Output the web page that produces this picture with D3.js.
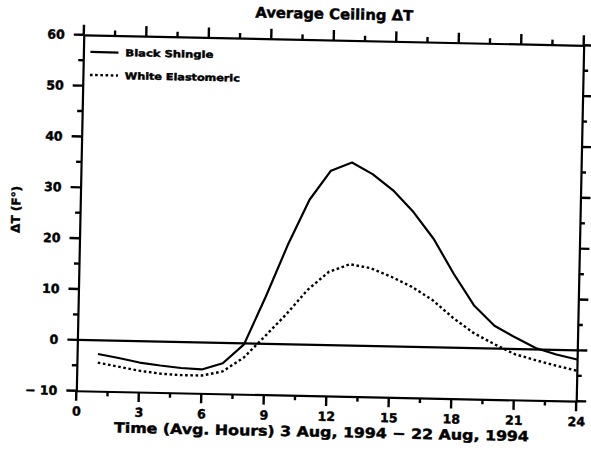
<!DOCTYPE html>
<html><head><meta charset="utf-8">
<script src="https://cdn.jsdelivr.net/npm/d3@7"></script>
<style>
html,body{margin:0;padding:0;background:#fff;}
svg{display:block;background:#fff;}
text{font-family:"DejaVu Sans",sans-serif;font-weight:bold;fill:#000;stroke:#000;stroke-width:0.45px;}
</style></head><body>
<svg id="c" width="591" height="451"></svg>
<script>
// ---- data ----
const hours = [1,2,3,4,5,6,7,8,9,10,11,12,13,14,15,16,17,18,19,20,21,22,23,24];
const blackShingle = [-2.7,-3.4,-4.2,-4.7,-5.1,-5.3,-4.0,-0.2,9.3,19.5,28.5,34.3,36.0,33.8,30.7,26.5,21.3,14.5,8.4,4.5,2.3,0.3,-0.9,-1.8];
const whiteElastomeric = [-4.4,-5.1,-5.8,-6.3,-6.5,-6.5,-5.6,-2.8,1.5,5.9,10.8,14.4,16.0,15.3,13.7,11.8,9.3,5.9,3.0,0.9,-1.0,-2.1,-3.1,-4.0];
const seriesNames = ["Black Shingle","White Elastomeric"];
const xMajorTicks = [0,3,6,9,12,15,18,21,24];
const xMinorTicks = [1.5,4.5,7.5,10.5,13.5,16.5,19.5,22.5];
const yMajorTicks = [-10,0,10,20,30,40,50,60];
const yMinorTicks = [-5,5,15,25,35,45,55];
const chartTitle = "Average Ceiling ΔT";
const xTitle = "Time (Avg. Hours) 3 Aug, 1994 \u2212 22 Aug, 1994";
const yTitle = "ΔT (F°)";

// ---- layout ----
const L=80, R=580, T=40, B=396;
const svg = d3.select("#c");
const g = svg.append("g").attr("transform","rotate(1.2,330,218)");
const x = d3.scaleLinear().domain([0,24]).range([L,R]);
const y = d3.scaleLinear().domain([-10,60]).range([B,T]);
const fmt = d => d<0 ? "\u2212 "+Math.abs(d) : String(d);

function styleAxis(sel, fs){
  sel.select(".domain").attr("stroke","#000").attr("stroke-width",2.2);
  sel.selectAll(".tick text").attr("font-size",fs).attr("font-family","DejaVu Sans").attr("font-weight","bold").attr("fill","#000");
}
// axes (frame + labels)
styleAxis(g.append("g").attr("transform",`translate(0,${B})`)
  .call(d3.axisBottom(x).tickValues(xMajorTicks).tickSize(0).tickPadding(16).tickFormat(fmt)),12.5);
styleAxis(g.append("g").attr("transform",`translate(0,${T})`)
  .call(d3.axisTop(x).tickValues(xMajorTicks).tickSize(0).tickFormat("")),12);
styleAxis(g.append("g").attr("transform",`translate(${L},0)`)
  .call(d3.axisLeft(y).tickValues(yMajorTicks).tickSize(0).tickPadding(19).tickFormat(fmt)),12.5);
styleAxis(g.append("g").attr("transform",`translate(${R},0)`)
  .call(d3.axisRight(y).tickValues(yMajorTicks).tickSize(0).tickFormat("")),12);

// tick marks (outward)
const tk = g.append("g").attr("stroke","#000").attr("stroke-width",2.4);
function xTicks(vals,len){
  tk.selectAll(null).data(vals).join("line")
    .attr("x1",d=>x(d)).attr("x2",d=>x(d)).attr("y1",B).attr("y2",B+len);
  tk.selectAll(null).data(vals).join("line")
    .attr("x1",d=>x(d)).attr("x2",d=>x(d)).attr("y1",T).attr("y2",T-len);
}
function yTicks(vals,len){
  tk.selectAll(null).data(vals).join("line")
    .attr("y1",d=>y(d)).attr("y2",d=>y(d)).attr("x1",L).attr("x2",L-len);
  tk.selectAll(null).data(vals).join("line")
    .attr("y1",d=>y(d)).attr("y2",d=>y(d)).attr("x1",R).attr("x2",R+len);
}
xTicks(xMajorTicks,10); xTicks(xMinorTicks,5);
yTicks(yMajorTicks,10); yTicks(yMinorTicks,5);

// zero line
g.append("line").attr("x1",x(0)).attr("x2",x(24)).attr("y1",y(0)).attr("y2",y(0))
  .attr("stroke","#000").attr("stroke-width",2.2);

// series
const line = d3.line().x((d,i)=>x(hours[i])).y(d=>y(d)).curve(d3.curveLinear);
g.append("path").datum(blackShingle).attr("d",line).attr("fill","none")
  .attr("stroke","#000").attr("stroke-width",2.2).attr("stroke-linejoin","round");
g.append("path").datum(whiteElastomeric).attr("d",line).attr("fill","none")
  .attr("stroke","#000").attr("stroke-width",2.4).attr("stroke-dasharray","2.6,2.6");

// legend
const lg = g.append("g");
[[0,null],[1,"2.6,2.6"]].forEach(([i,dash])=>{
  const yy = 57 + i*23;
  const ln = lg.append("line").attr("x1",87).attr("x2",115).attr("y1",yy).attr("y2",yy)
    .attr("stroke","#000").attr("stroke-width",i?2.4:2.2);
  if(dash) ln.attr("stroke-dasharray",dash);
  lg.append("text").attr("x",122).attr("y",yy+3.5).attr("font-size",9.5)
    .attr("textLength",i?115:88).attr("lengthAdjust","spacingAndGlyphs").text(seriesNames[i]);
});

// titles
g.append("text").attr("x",330).attr("y",19).attr("text-anchor","middle").attr("font-size",14.5)
  .attr("textLength",158).attr("lengthAdjust","spacingAndGlyphs").text(chartTitle);
g.append("text").attr("x",326).attr("y",437).attr("text-anchor","middle").attr("font-size",14)
  .attr("textLength",415).attr("lengthAdjust","spacingAndGlyphs").text(xTitle);
g.append("text").attr("transform","translate(20,216) rotate(-90)").attr("text-anchor","middle")
  .attr("font-size",12).text(yTitle);
</script>
</body></html>
